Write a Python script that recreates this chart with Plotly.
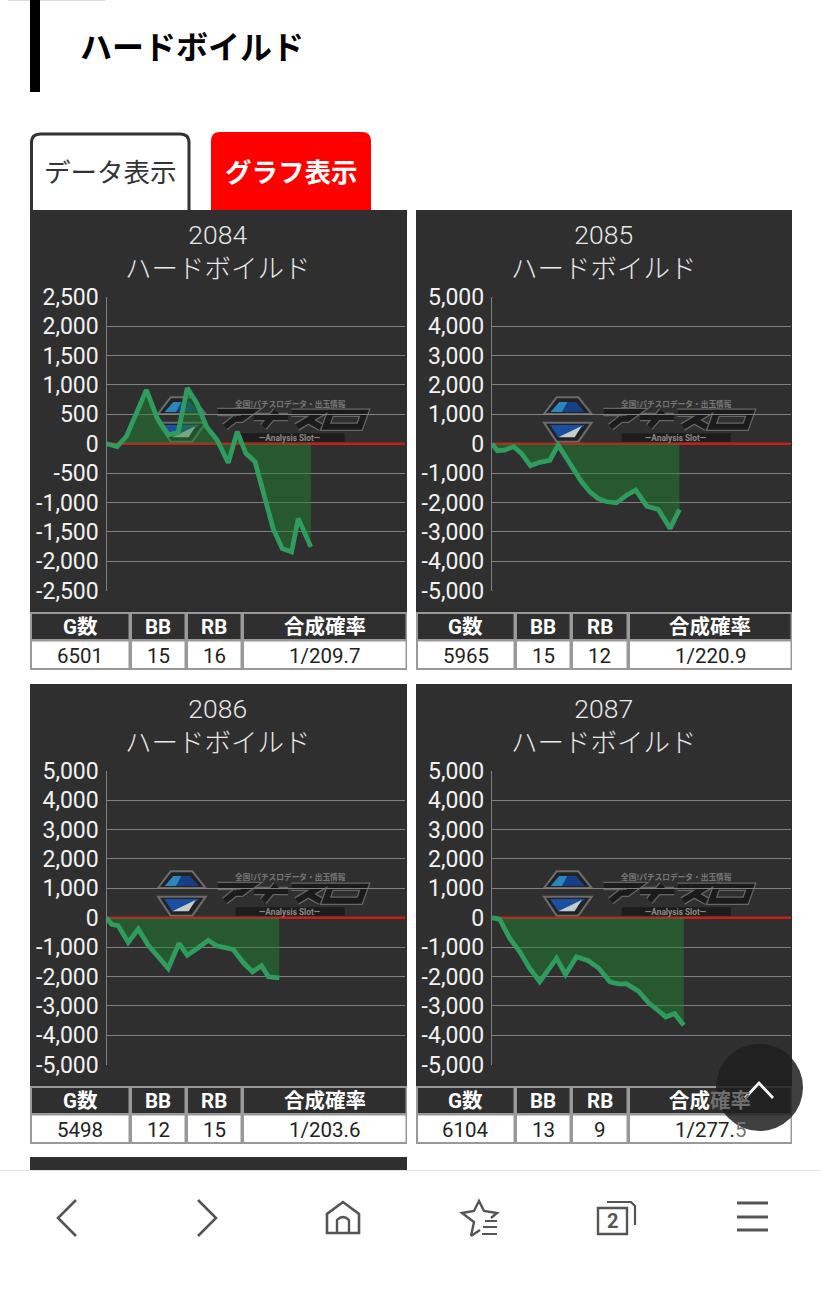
import plotly.graph_objects as go

W, H = 821, 1296
PAGE_TITLE = "ハードボイルド"
TAB_LABELS = ["データ表示", "グラフ表示"]
TABLE_HEAD = ["G数", "BB", "RB", "合成確率"]

machines = ["2084", "2085", "2086", "2087"]
games = ["6501", "5965", "5498", "6104"]
bb = ["15", "15", "12", "13"]
rb = ["16", "12", "15", "9"]
odds = ["1/209.7", "1/220.9", "1/203.6", "1/277.5"]

x_2084 = [0, 340, 640, 955, 1270, 1615, 1965, 2280, 2570, 2865, 3185, 3525, 3875, 4160, 4435, 4725, 5040, 5305, 5595, 5890, 6105, 6501]
y_2084 = [0, -50, 130, 545, 915, 430, 150, 190, 945, 700, 290, 60, -325, 205, -165, -305, -960, -1445, -1785, -1840, -1270, -1755]
x_2085 = [0, 170, 405, 690, 935, 1225, 1520, 1840, 2105, 2530, 2850, 3115, 3380, 3650, 3965, 4285, 4575, 4925, 5295, 5670, 5965]
y_2085 = [0, -240, -215, -100, -330, -750, -635, -570, -45, -730, -1295, -1635, -1865, -1975, -2010, -1750, -1580, -2125, -2240, -2885, -2240]
x_2086 = [0, 160, 370, 690, 1010, 1325, 1645, 1965, 2305, 2570, 2920, 3240, 3500, 3770, 4035, 4350, 4650, 4935, 5150, 5498]
y_2086 = [0, -225, -270, -840, -385, -930, -1330, -1725, -875, -1275, -1020, -770, -955, -1020, -1080, -1525, -1840, -1635, -2010, -2045]
x_2087 = [0, 245, 565, 885, 1200, 1520, 2055, 2340, 2690, 3065, 3405, 3755, 4020, 4285, 4660, 4980, 5245, 5530, 5810, 6104]
y_2087 = [0, -55, -705, -1160, -1725, -2180, -1385, -1930, -1330, -1465, -1725, -2180, -2250, -2250, -2500, -2885, -3115, -3375, -3260, -3660]
xs = [x_2084, x_2085, x_2086, x_2087]
ys = [y_2084, y_2085, y_2086, y_2087]

ticks_small = [2500, 2000, 1500, 1000, 500, 0, -500, -1000, -1500, -2000, -2500]
ticks_large = [5000, 4000, 3000, 2000, 1000, 0, -1000, -2000, -3000, -4000, -5000]
labels_small = ["2,500", "2,000", "1,500", "1,000", "500", "0", "-500", "-1,000", "-1,500", "-2,000", "-2,500"]
labels_large = ["5,000", "4,000", "3,000", "2,000", "1,000", "0", "-1,000", "-2,000", "-3,000", "-4,000", "-5,000"]
tick_vals = [ticks_small, ticks_large, ticks_large, ticks_large]
tick_text = [labels_small, labels_large, labels_large, labels_large]
x_limit = [0, 9500]

JP = "Noto Sans CJK JP"
RB = "Roboto"
DARK = "#2f2f2f"


def fx(x):
    return x / W


def fy(y):
    return 1 - y / H


def pt(x, y):
    return f"{fx(x):.5f},{fy(y):.5f}"


shapes = []


def rect(x0, y0, x1, y1, fill, line=None, lw=0, layer="below"):
    shapes.append(dict(type="rect", xref="paper", yref="paper", x0=fx(x0), x1=fx(x1), y0=fy(y1), y1=fy(y0),
                       fillcolor=fill, line=dict(color=line or fill, width=lw), layer=layer))


def poly(points, fill=None, line=None, lw=0, closed=True, layer="below"):
    d = "M" + " L".join(pt(*p) for p in points) + (" Z" if closed else "")
    shapes.append(dict(type="path", xref="paper", yref="paper", path=d, fillcolor=fill or "rgba(0,0,0,0)",
                       line=dict(color=line or "rgba(0,0,0,0)", width=lw), layer=layer))


def raw(d, fill=None, line=None, lw=0, layer="below"):
    shapes.append(dict(type="path", xref="paper", yref="paper", path=d, fillcolor=fill or "rgba(0,0,0,0)",
                       line=dict(color=line or "rgba(0,0,0,0)", width=lw), layer=layer))


def round_top(x0, y0, x1, y1, r):
    return (f"M{pt(x0, y1)} L{pt(x0, y0 + r)} Q{pt(x0, y0)} {pt(x0 + r, y0)} L{pt(x1 - r, y0)} "
            f"Q{pt(x1, y0)} {pt(x1, y0 + r)} L{pt(x1, y1)} Z")


annotations = []


def text(x, y, s, size, color, family=JP, bold=False, weight=None):
    font = dict(family=family, size=size, color=color)
    if weight:
        font["weight"] = weight
    annotations.append(dict(xref="paper", yref="paper", x=fx(x), y=fy(y), text=f"<b>{s}</b>" if bold else s,
                            showarrow=False, xanchor="center", yanchor="middle", font=font, borderpad=0))


# page header
rect(8, 0, 105, 1, "#dddddd")
rect(30, 0, 40, 92, "#000000")
text(192, 45, PAGE_TITLE, 32, "#000000", bold=True)

# tabs
raw(round_top(31.5, 134, 189, 214, 9), fill="#ffffff", line="#333333", lw=3)
raw(round_top(211, 132, 371, 214, 9), fill="#ff0000")
text(110, 170.5, TAB_LABELS[0], 26.5, "#333333")
text(291, 170.5, TAB_LABELS[1], 26.5, "#ffffff", bold=True)

panels = [(30, 210, 407), (416, 210, 792), (30, 684, 407), (416, 684, 792)]
col_edges = [[30, 130, 186, 242, 407], [416, 515, 571, 628, 792], [30, 130, 186, 242, 407], [416, 515, 571, 628, 792]]


def logo(px, py):
    def c(zx, zy):
        return (px + 124 + zx / 3, py + 180 + zy / 3)

    poly([c(12, 72), c(50, 22), c(115, 22), c(155, 72)], fill="#222222", line="#6b6b6b", lw=2)
    poly([c(32, 66), c(58, 36), c(108, 36), c(134, 66)], fill="#173f86")
    poly([c(32, 66), c(58, 36), c(82, 36), c(66, 66)], fill="#2b86bd")
    poly([c(12, 98), c(155, 98), c(115, 155), c(50, 155)], fill="#222222", line="#6b6b6b", lw=2)
    poly([c(30, 105), c(135, 105), c(108, 128), c(55, 142)], fill="#1b4f9f")
    poly([c(55, 142), c(125, 108), c(104, 142)], fill="#c6ccce")
    strokes = [
        [c(190, 66), c(290, 66), c(262, 86), c(245, 86)],
        [c(246, 84), c(212, 111)],
        [c(300, 81), c(402, 81)],
        [c(368, 63), c(328, 111)],
        [c(412, 68), c(500, 68), c(428, 111)],
        [c(462, 90), c(500, 111)],
        [c(530, 68), c(632, 68), c(617, 110), c(515, 110)],
    ]
    for color, lw in (("#666666", 8.5), ("#1b1b1b", 6)):
        for i, s in enumerate(strokes):
            poly(s, line=color, lw=lw, closed=(i == 6))
    rect(*c(245, 130), *c(572, 155), "#1c1c1c")
    text(*c(410, 39), "全国!パチスロデータ・出玉情報", 7.7, "#777777", bold=True)
    text(*c(408, 143), "—Analysis Slot—", 8.3, "#8a8a8a", family=RB, bold=True)


fig = go.Figure()
layout_axes = {}
for i, (px, py, px1) in enumerate(panels):
    rect(px, py, px1, py + 403, DARK)
    logo(px, py)
    cx = (px + px1) / 2 - 0.5
    text(cx, py + 41, machines[i] + "<br>" + PAGE_TITLE, 26.5, "#e8e8e8", family=RB + ", " + JP, weight=300)

    # data table
    top = py + 402
    e = col_edges[i]
    rect(e[0], top, e[-1], top + 58, "#999999")
    for j in range(4):
        rect(e[j] + 2, top + 2, e[j + 1] - 1.5, top + 27, DARK)
        rect(e[j] + 2, top + 29.5, e[j + 1] - 1.5, top + 56, "#ffffff")
        mid = (e[j] + e[j + 1]) / 2
        head = TABLE_HEAD[j]
        cell = [games[i], bb[i], rb[i], odds[i]][j]
        if i == 3 and j == 3:  # the floating round button sits over these glyphs
            head = head[:2] + "<span style='color:#6e6e6e'>" + head[2:] + "</span>"
            cell = cell[:-1] + "<span style='color:#777777'>" + cell[-1] + "</span>"
        text(mid, top + 15, head, 20.5, "#ffffff", family=RB + ", " + JP, bold=True)
        text(mid, top + 43.5, cell, 20.5, "#222222", family=RB)

    # plot
    suffix = "" if i == 0 else str(i + 1)
    x0 = px + 76.5 if i % 2 == 0 else px + 76
    x1 = x0 + 298.5
    y_top = py + 86.7
    y_bot = py + 380.7
    layout_axes["xaxis" + suffix] = dict(domain=[fx(x0), fx(x1)], range=x_limit, anchor="y" + suffix,
                                         showgrid=False, zeroline=False, showticklabels=False, ticks="",
                                         showline=False, automargin=False)
    layout_axes["yaxis" + suffix] = dict(domain=[fy(y_bot), fy(y_top)], range=[tick_vals[i][-1], tick_vals[i][0]],
                                         anchor="x" + suffix, tickmode="array", tickvals=tick_vals[i],
                                         ticktext=tick_text[i], showgrid=True, gridcolor="#808080", gridwidth=1.4,
                                         zeroline=False, showline=True, linecolor="#808080", linewidth=1.4,
                                         ticks="outside", ticklen=2, tickcolor=DARK, automargin=False,
                                         tickfont=dict(family=RB, size=23, color="#f2f2f2"))
    fig.add_trace(go.Scatter(x=x_limit, y=[0, 0], mode="lines", line=dict(color="#c81e1a", width=2.5),
                             xaxis="x" + suffix, yaxis="y" + suffix, showlegend=False, hoverinfo="skip"))
    fig.add_trace(go.Scatter(x=xs[i], y=ys[i], mode="lines", fill="tozeroy", fillcolor="rgba(34,130,50,0.5)",
                             line=dict(color="#2e9c5c", width=4.8), xaxis="x" + suffix, yaxis="y" + suffix,
                             showlegend=False, name=machines[i]))

# next panel peeking above the browser bar
rect(30, 1157, 407, 1171, DARK)

# browser bar
rect(0, 1170, W, H, "#ffffff")
rect(0, 1170, W, 1171, "#e6e6e6")
IC = "#555555"
poly([(76, 1200), (58, 1218), (76, 1236)], line=IC, lw=2.6, closed=False)
poly([(198, 1200), (216, 1218), (198, 1236)], line=IC, lw=2.6, closed=False)
raw(f"M{pt(327, 1233)} L{pt(327, 1214)} L{pt(343, 1202)} L{pt(359, 1214)} L{pt(359, 1233)} Z", line=IC, lw=2.6)
raw(f"M{pt(337, 1233)} L{pt(337, 1220)} Q{pt(343, 1214)} {pt(349, 1220)} L{pt(349, 1233)}", line=IC, lw=2.4)
poly([(471, 1236), (474, 1222), (462, 1213), (474, 1211), (479, 1201), (484, 1211), (497, 1213), (491, 1218)],
     line=IC, lw=2.4, closed=False)
poly([(471, 1236), (480, 1230)], line=IC, lw=2.4, closed=False)
for yy, a in ((1221, 485), (1227, 483), (1234, 482)):
    rect(a, yy - 1, 497, yy + 1, IC)
raw(f"M{pt(598, 1208)} L{pt(627, 1208)} L{pt(627, 1234)} L{pt(598, 1234)} Z", line=IC, lw=2.4)
poly([(607, 1202), (631, 1202), (635, 1206), (635, 1225)], line=IC, lw=2.2, closed=False)
text(612.5, 1221, "2", 20, IC, family=RB, bold=True)
for yy in (1203, 1217, 1230):
    rect(737, yy - 1.5, 768, yy + 1.5, IC)

# floating scroll-top button
shapes.append(dict(type="circle", xref="paper", yref="paper", x0=fx(716), x1=fx(803), y0=fy(1131), y1=fy(1044),
                   fillcolor="rgba(30,30,30,0.85)", line=dict(width=0), layer="above"))
poly([(745, 1098), (759, 1083), (773, 1098)], line="#f4f4f4", lw=2.8, closed=False, layer="above")

fig.update_layout(width=W, height=H, margin=dict(l=0, r=0, t=0, b=0, autoexpand=False), paper_bgcolor="#ffffff",
                  plot_bgcolor="rgba(0,0,0,0)", shapes=shapes, annotations=annotations, showlegend=False,
                  **layout_axes)
fig.write_html("out.html", config=dict(displayModeBar=False),
               post_script="document.body.style.margin='0';document.body.style.overflow='hidden';")
